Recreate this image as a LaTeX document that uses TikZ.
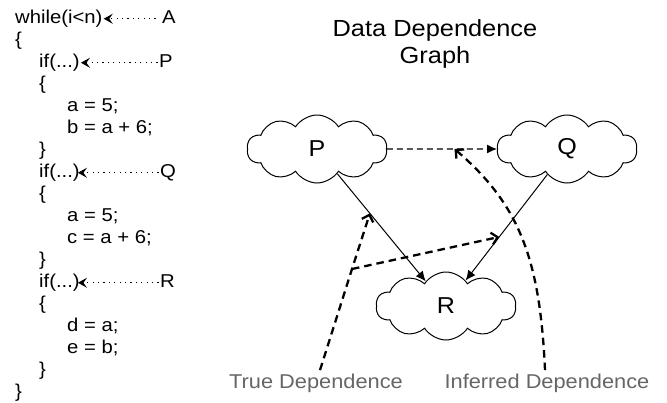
\documentclass[tikz,border=0pt]{standalone}
\usepackage{fontspec}
\setmainfont[FakeStretch=1.09]{Liberation Sans}
\usetikzlibrary{shapes.symbols,arrows.meta,calc}

\tikzset{
  code/.style={anchor=base west, inner sep=1pt, font=\fontsize{18.6}{22}\selectfont,
    text height=13.5pt, text depth=4pt},
  tag/.style={code, inner sep=1.5pt},
  pointer/.style={-{Stealth[length=9pt,width=10pt,inset=3.5pt]}, line width=1pt,
    dash pattern=on 1.2pt off 4.2pt},
  block/.style={cloud, draw, cloud puffs=10, cloud puff arc=115, aspect=2,
    minimum width=140pt, minimum height=68pt, inner sep=0pt, line width=1pt,
    font=\fontsize{23}{27}\selectfont},
  dep/.style={-{Latex[length=10pt,width=9pt]}, line width=1pt},
  heavy/.style={line width=2.3pt, dash pattern=on 7.5pt off 5pt,
    -{Straight Barb[length=6pt,width=12pt]}},
  note/.style={text=black!60, font=\fontsize{20}{24}\selectfont}
}

\begin{document}
\begin{tikzpicture}[x=1pt,y=-1pt]
  \useasboundingbox (0,0) rectangle (667,402);

  % Code listing
  \node[code] (loop)  at (14,23.5)  {while(i<n)};
  \node[code] (open0) at (14,45.5)  {\{};
  \node[code] (ifp)   at (38,67.5)  {if(...)};
  \node[code] (open1) at (38,89.5)  {\{};
  \node[code] (sa1)   at (66,111.5) {a = 5;};
  \node[code] (sb)    at (66,133.5) {b = a + 6;};
  \node[code] (close1) at (38,155.5) {\}};
  \node[code] (ifq)   at (38,177.5) {if(...)};
  \node[code] (open2) at (38,199.5) {\{};
  \node[code] (sa2)   at (66,221.5) {a = 5;};
  \node[code] (sc)    at (66,243.5) {c = a + 6;};
  \node[code] (close2) at (38,265.5) {\}};
  \node[code] (ifr)   at (38,287.5) {if(...)};
  \node[code] (open3) at (38,309.5) {\{};
  \node[code] (sd)    at (66,331.5) {d = a;};
  \node[code] (se)    at (66,353.5) {e = b;};
  \node[code] (close3) at (38,375.5) {\}};
  \node[code] (close0) at (14,397.5) {\}};

  % Tags on the listing
  \node[tag] (taga) at (160.5,23.5)  {A};
  \node[tag] (tagp) at (157.5,67.5)  {P};
  \node[tag] (tagq) at (158.5,177.5) {Q};
  \node[tag] (tagr) at (158.5,287.5) {R};
  \draw[pointer, shorten <=5pt] (taga.west) -- (loop.east);
  \draw[pointer] (tagp.west) -- (ifp.east);
  \draw[pointer, shorten >=-3pt] (tagq.west) -- (ifq.east);
  \draw[pointer, shorten >=-3pt] (tagr.west) -- (ifr.east);

  % Graph
  \node[align=center, font=\fontsize{23.3}{27}\selectfont] (title) at (435,44)
    {Data Dependence\\Graph};
  \node[block] (P) at (317,149) {P};
  \node[block] (Q) at (567,149) {Q};
  \node[block] (R) at (446,306) {R};

  \draw[dep, dash pattern=on 6pt off 4pt, line width=1.2pt] (P) -- (Q);
  \draw[dep] (P) -- (R);
  \draw[dep] (Q) -- (R);

  % Dependence kinds
  \node[note] (truedep) at (316,383) {True Dependence};
  \node[note] (infdep)  at (547,383) {Inferred Dependence};
  \coordinate (split) at (352,269);
  \coordinate (tipa) at ($(P)!0.41!(R)$);
  \coordinate (tipb) at ($(Q)!0.56!(R)$);
  \coordinate (tipc) at ($(P)!0.55!(Q)$);
  \draw[heavy] ([xshift=4pt]truedep.north) -- (split) -- (tipa);
  \draw[heavy] (split) -- (tipb);
  \draw[heavy] ([xshift=-2pt]infdep.north) .. controls (540,260) and (520,205) .. (tipc);
\end{tikzpicture}
\end{document}
